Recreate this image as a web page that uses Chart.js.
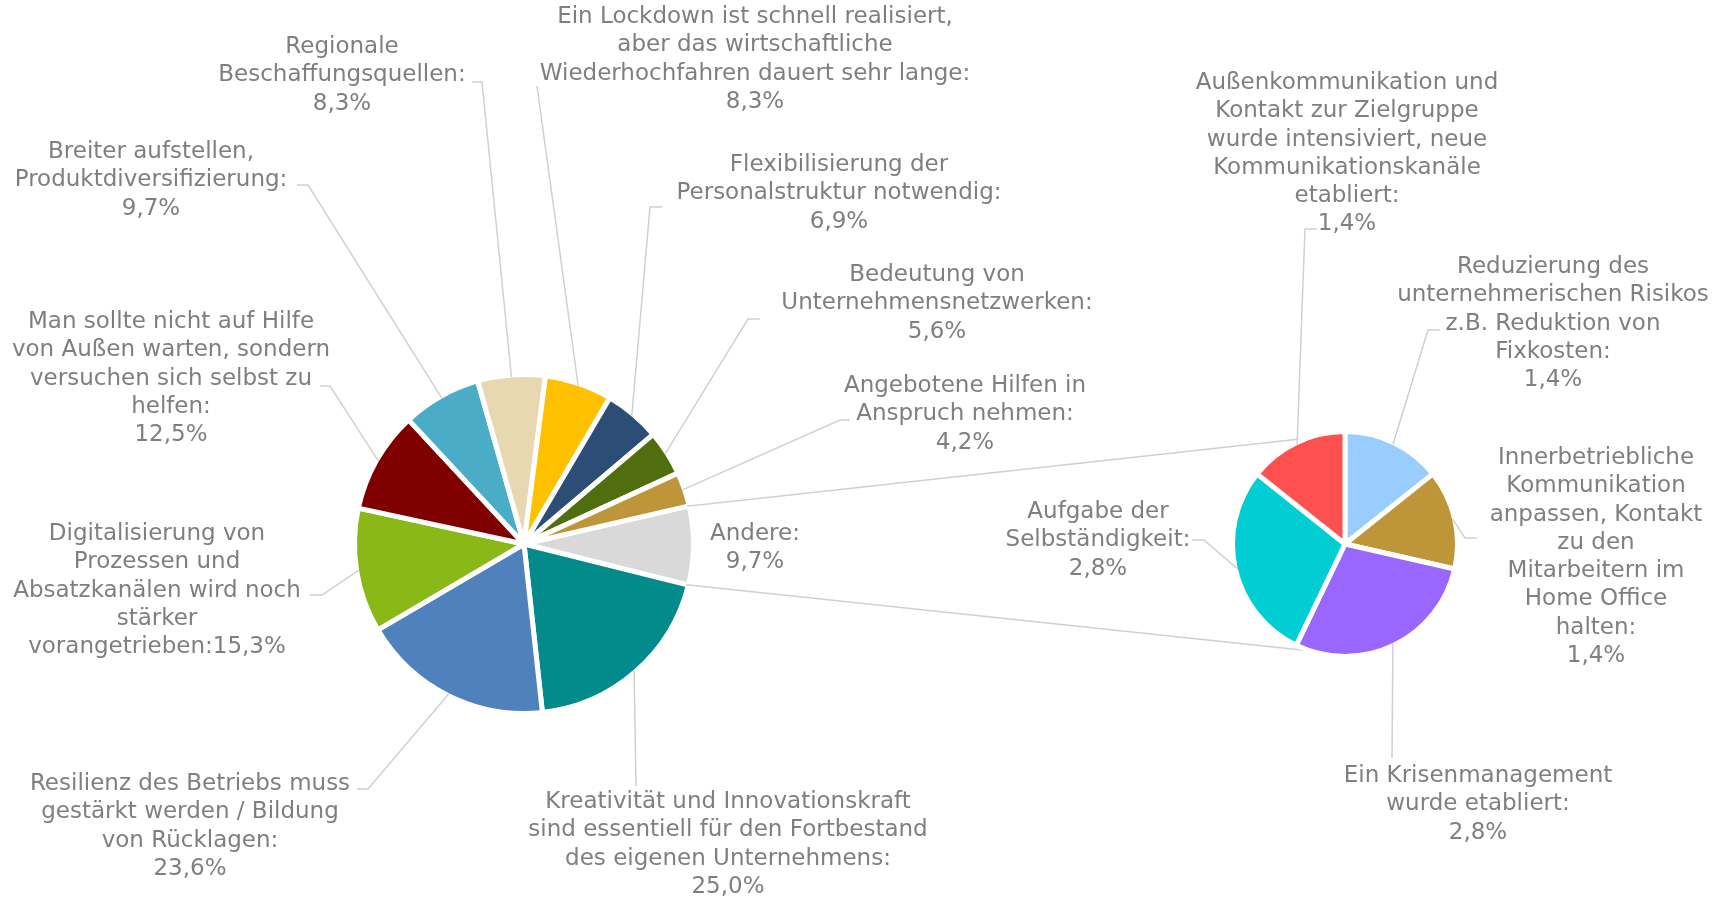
<!DOCTYPE html>
<html>
<head>
<meta charset="utf-8">
<script src="https://cdn.jsdelivr.net/npm/chart.js@4.4.0/dist/chart.umd.min.js"></script>
<style>
    html, body { margin: 0; padding: 0; background: #fff; }
    #wrap { position: relative; width: 1712px; height: 899px; }
    #wrap canvas { position: absolute; left: 0; top: 0; }
</style>
</head>
<body>
<div id="wrap">
    <canvas id="mainPie" width="1712" height="899"></canvas>
    <canvas id="subPie" width="1712" height="899"></canvas>
</div>
<script>
// main pie, clockwise starting with "Andere"
var mainCategories = [
    "Andere",
    "Kreativität und Innovationskraft\nsind essentiell für den Fortbestand\ndes eigenen Unternehmens",
    "Resilienz des Betriebs muss\ngestärkt werden / Bildung\nvon Rücklagen",
    "Digitalisierung von\nProzessen und\nAbsatzkanälen wird noch\nstärker\nvorangetrieben",
    "Man sollte nicht auf Hilfe\nvon Außen warten, sondern\nversuchen sich selbst zu\nhelfen",
    "Breiter aufstellen,\nProduktdiversifizierung",
    "Regionale\nBeschaffungsquellen",
    "Ein Lockdown ist schnell realisiert,\naber das wirtschaftliche\nWiederhochfahren dauert sehr lange",
    "Flexibilisierung der\nPersonalstruktur notwendig",
    "Bedeutung von\nUnternehmensnetzwerken",
    "Angebotene Hilfen in\nAnspruch nehmen"
];
var mainValues = [9.7, 25.0, 23.6, 15.3, 12.5, 9.7, 8.3, 8.3, 6.9, 5.6, 4.2];
var mainColors = ["#d9d9d9", "#038a8a", "#4f81bd", "#8ab817", "#800000", "#4aacc6",
                  "#e8d8b2", "#ffc000", "#2c4d75", "#506e0e", "#bf9539"];

// secondary pie ("Andere" broken down), clockwise from the top
var subCategories = [
    "Reduzierung des\nunternehmerischen Risikos\nz.B. Reduktion von\nFixkosten",
    "Innerbetriebliche\nKommunikation\nanpassen, Kontakt\nzu den\nMitarbeitern im\nHome Office\nhalten",
    "Ein Krisenmanagement\nwurde etabliert",
    "Aufgabe der\nSelbständigkeit",
    "Außenkommunikation und\nKontakt zur Zielgruppe\nwurde intensiviert, neue\nKommunikationskanäle\netabliert"
];
var subValues = [1.4, 1.4, 2.8, 2.8, 1.4];
var subColors = ["#99ccff", "#bf9539", "#9966ff", "#00ced3", "#ff5050"];

// label placement (text centre x, first line y, leader start points)
var mainLayout = [
    { x: 755, y: 534 },
    { x: 728, y: 802, lead: [[636, 786]] },
    { x: 190, y: 784, lead: [[357, 789], [368, 789]] },
    { x: 157, y: 534, inline: true, lead: [[310, 595], [322, 595]] },
    { x: 171, y: 322, lead: [[320, 386], [330, 386]] },
    { x: 151, y: 152, lead: [[297, 185], [308, 185]] },
    { x: 342, y: 47, lead: [[472, 82], [482, 82]] },
    { x: 755, y: 17, lead: [[537, 86]] },
    { x: 839, y: 165, lead: [[662, 207], [650, 207]] },
    { x: 937, y: 275, lead: [[760, 319], [748, 319]] },
    { x: 965, y: 386, lead: [[850, 420], [840, 420]] }
];
var subLayout = [
    { x: 1553, y: 267, lead: [[1440, 330], [1428, 330]] },
    { x: 1596, y: 458, lead: [[1477, 538], [1465, 538]] },
    { x: 1478, y: 776, lead: [[1392, 758]] },
    { x: 1098, y: 512, lead: [[1192, 540], [1204, 540]] },
    { x: 1347, y: 83, lead: [[1317, 229], [1305, 229]] }
];

var TEXT_COLOR = "#7f7f7f";
var LINE_COLOR = "#d0d0d0";
var FONT = '23px "DejaVu Sans"';
var LINE_H = 28.3;

function fmt(v) {
    return v.toFixed(1).replace(".", ",") + "%";
}

function makeLabelPlugin(layout) {
    return {
        id: "pieLabels",
        afterDatasetsDraw: function (chart) {
            var ctx = chart.ctx;
            var arcs = chart.getDatasetMeta(0).data;
            var names = chart.data.labels;
            var values = chart.data.datasets[0].data;
            ctx.save();
            layout.forEach(function (l, i) {
                var arc = arcs[i];
                if (l.lead) {
                    var mid = (arc.startAngle + arc.endAngle) / 2;
                    var r = arc.outerRadius - 2;
                    ctx.strokeStyle = LINE_COLOR;
                    ctx.lineWidth = 1.5;
                    ctx.beginPath();
                    ctx.moveTo(l.lead[0][0], l.lead[0][1]);
                    for (var k = 1; k < l.lead.length; k++) {
                        ctx.lineTo(l.lead[k][0], l.lead[k][1]);
                    }
                    ctx.lineTo(arc.x + Math.cos(mid) * r, arc.y + Math.sin(mid) * r);
                    ctx.stroke();
                }
                var lines = names[i].split("\n");
                if (l.inline) {
                    lines[lines.length - 1] += ":" + fmt(values[i]);
                } else {
                    lines[lines.length - 1] += ":";
                    lines.push(fmt(values[i]));
                }
                ctx.fillStyle = TEXT_COLOR;
                ctx.font = FONT;
                ctx.textAlign = "center";
                ctx.textBaseline = "middle";
                lines.forEach(function (t, k) {
                    ctx.fillText(t, l.x, l.y + k * LINE_H);
                });
            });
            ctx.restore();
        }
    };
}

function pieConfig(labels, values, colors, radius, rotation, padding, layout, extra) {
    return {
        type: "pie",
        data: {
            labels: labels,
            datasets: [{
                data: values,
                backgroundColor: colors,
                borderColor: "#ffffff",
                borderWidth: 5,
                radius: radius
            }]
        },
        options: {
            responsive: false,
            animation: false,
            events: [],
            rotation: rotation,
            layout: { padding: padding },
            plugins: {
                legend: { display: false },
                tooltip: { enabled: false }
            }
        },
        plugins: [makeLabelPlugin(layout)].concat(extra || [])
    };
}

var mainChart = new Chart(document.getElementById("mainPie"),
    pieConfig(mainCategories, mainValues, mainColors, 169.5, 77,
        { left: 0, right: 664, top: 189, bottom: 0 }, mainLayout));

// lines from the "Andere" slice to the secondary pie
var connectorPlugin = {
    id: "connectors",
    beforeDatasetsDraw: function (chart) {
        var ctx = chart.ctx;
        var src = mainChart.getDatasetMeta(0).data[0];
        var dst = chart.getDatasetMeta(0).data[0];
        var rs = src.outerRadius - 2, rd = dst.outerRadius - 2;
        var targets = [255, 101.5].map(function (d) { return d * Math.PI / 180; });
        var corners = [src.startAngle, src.endAngle];
        ctx.save();
        ctx.strokeStyle = LINE_COLOR;
        ctx.lineWidth = 1.5;
        for (var i = 0; i < 2; i++) {
            ctx.beginPath();
            ctx.moveTo(src.x + Math.cos(corners[i]) * rs, src.y + Math.sin(corners[i]) * rs);
            ctx.lineTo(dst.x + Math.cos(targets[i]) * rd, dst.y + Math.sin(targets[i]) * rd);
            ctx.stroke();
        }
        ctx.restore();
    }
};

var subChart = new Chart(document.getElementById("subPie"),
    pieConfig(subCategories, subValues, subColors, 112.5, 0,
        { left: 978, right: 0, top: 189, bottom: 0 }, subLayout, [connectorPlugin]));
</script>
</body>
</html>
